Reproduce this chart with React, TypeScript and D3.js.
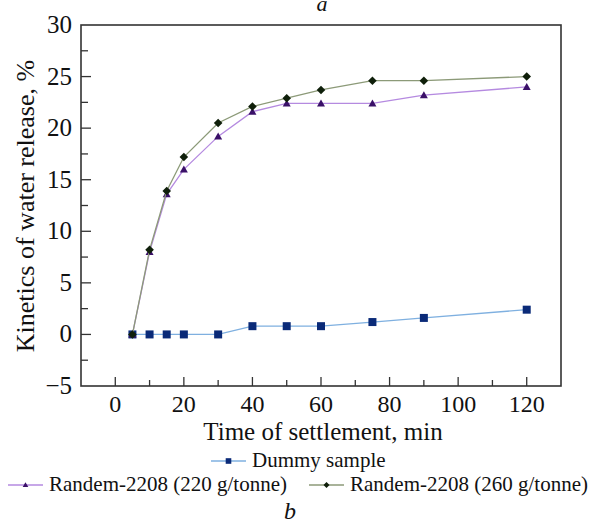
import React from "react";
import * as d3 from "d3";

const times = [5, 10, 15, 20, 30, 40, 50, 60, 75, 90, 120];
const dummy = [0, 0, 0, 0, 0, 0.8, 0.8, 0.8, 1.2, 1.6, 2.4];
const r220 = [0, 8.0, 13.6, 16.0, 19.2, 21.6, 22.4, 22.4, 22.4, 23.2, 24.0];
const r260 = [0, 8.2, 13.9, 17.2, 20.5, 22.1, 22.9, 23.7, 24.6, 24.6, 25.0];
const xTicks = [0, 20, 40, 60, 80, 100, 120];
const yTicks = [-5, 0, 5, 10, 15, 20, 25, 30];
const seriesNames = ["Dummy sample", "Randem-2208 (220 g/tonne)", "Randem-2208 (260 g/tonne)"];

const W = 596, H = 525;
const L = 81, R = 561, T = 25, B = 386;
const FONT = "Liberation Serif";

const x = d3.scaleLinear().domain([-10, 130]).range([L, R]);
const y = d3.scaleLinear().domain([-5, 30]).range([B, T]);

type Shape = "square" | "triangle" | "diamond";
function Marker({ cx, cy, shape, fill, s = 1 }: { cx: number; cy: number; shape: Shape; fill: string; s?: number }) {
  if (shape === "square") {
    const h = 4 * s;
    return <rect x={cx - h} y={cy - h} width={2 * h} height={2 * h} fill={fill} />;
  }
  if (shape === "triangle") {
    const h = 4 * s;
    return <path d={`M${cx},${cy - h} L${cx + h},${cy + h * 0.75} L${cx - h},${cy + h * 0.75} Z`} fill={fill} />;
  }
  const h = 4.3 * s;
  return <path d={`M${cx},${cy - h} L${cx + h},${cy} L${cx},${cy + h} L${cx - h},${cy} Z`} fill={fill} />;
}

const series = [
  { name: seriesNames[0], values: dummy, line: "#7fb0e0", mark: "#0a2a78", shape: "square" as Shape },
  { name: seriesNames[1], values: r220, line: "#b58ae0", mark: "#3a1068", shape: "triangle" as Shape },
  { name: seriesNames[2], values: r260, line: "#8c9a78", mark: "#0f1f0a", shape: "diamond" as Shape },
];

function Txt(props: any) {
  const { size, italic, children, ...rest } = props;
  return (
    <text {...rest} fontSize={size} fontFamily={FONT} fontStyle={italic ? "italic" : undefined} style={{ fontFamily: FONT }} fill="#111">
      {children}
    </text>
  );
}

export default function App() {
  const line = d3.line<number>().x((_, i) => x(times[i])).y((v) => y(v));
  const xMinor = d3.range(-10, 131, 10).filter((v) => v > -10 && v < 130);
  const yMinor = d3.range(-5, 30.1, 2.5).filter((v) => v > -5 && v < 30);
  return (
    <svg width={W} height={H} fontFamily={FONT} style={{ display: "block", position: "absolute", left: 0, top: 0, fontFamily: FONT }}>
      <rect width={W} height={H} fill="#fff" />
      <Txt x={322} y={11} size={22} italic textAnchor="middle">a</Txt>
      {xMinor.map((v) => (
        <line key={"xm" + v} x1={x(v)} x2={x(v)} y1={B} y2={B - (v % 20 === 0 ? 9 : 6)} stroke="#333" strokeWidth={1.3} />
      ))}
      {yMinor.map((v) => (
        <line key={"ym" + v} x1={L} x2={L + (v % 5 === 0 ? 10 : 7)} y1={y(v)} y2={y(v)} stroke="#333" strokeWidth={1.3} />
      ))}
      {series.map((s) => (
        <g key={s.name}>
          <path d={line(s.values) || ""} fill="none" stroke={s.line} strokeWidth={1.3} />
          {s.values.map((v, i) => (
            <Marker key={i} cx={x(times[i])} cy={y(v)} shape={s.shape} fill={s.mark} />
          ))}
        </g>
      ))}
      <rect x={L} y={T} width={R - L} height={B - T} fill="none" stroke="#333" strokeWidth={1.6} />
      {xTicks.map((v) => (
        <Txt key={"xt" + v} x={x(v)} y={412} size={24} textAnchor="middle">{v}</Txt>
      ))}
      {yTicks.map((v) => (
        <Txt key={"yt" + v} x={72} y={y(v) + 8} size={25} textAnchor="end">
          {v < 0 ? "\u2212" + Math.abs(v) : v}
        </Txt>
      ))}
      <Txt x={323} y={440} size={25} textAnchor="middle">Time of settlement, min</Txt>
      <Txt transform={`translate(34,206) rotate(-90)`} size={26} textAnchor="middle">
        Kinetics of water release, %
      </Txt>
      {[
        { s: series[0], lx: 211, ty: 467 },
        { s: series[1], lx: 8, ty: 491 },
        { s: series[2], lx: 309, ty: 491 },
      ].map(({ s, lx, ty }) => (
        <g key={"lg" + s.name}>
          <line x1={lx} x2={lx + 35} y1={ty - 6} y2={ty - 6} stroke={s.line} strokeWidth={1.3} />
          <Marker cx={lx + 17.5} cy={ty - 6} shape={s.shape} fill={s.mark} s={0.7} />
          <Txt x={lx + 41} y={ty} size={21}>{s.name}</Txt>
        </g>
      ))}
      <Txt x={290} y={519} size={24} italic textAnchor="middle">b</Txt>
    </svg>
  );
}
